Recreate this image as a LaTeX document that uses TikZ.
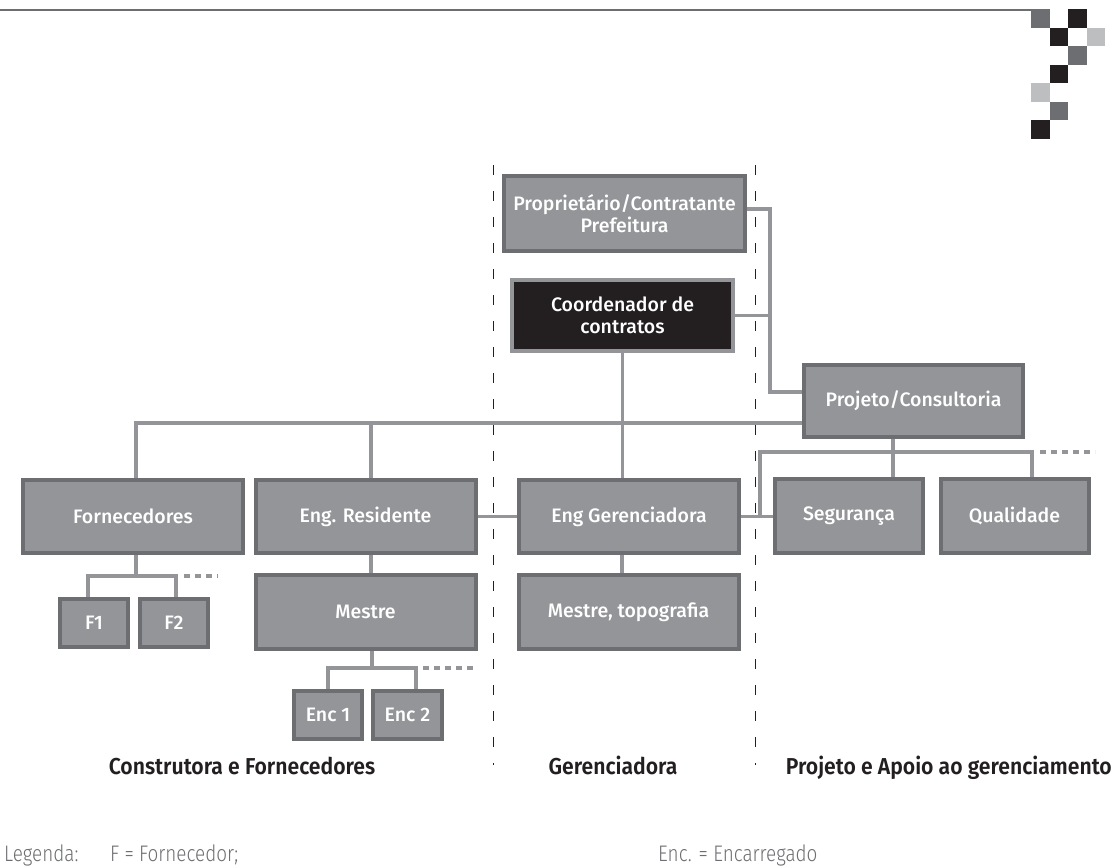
\documentclass[tikz,border=0pt]{standalone}
\usepackage{fontspec}
\setmainfont{Fira Sans}[BoldFont={Fira Sans SemiBold},FakeStretch=0.92]
\newfontfamily\boxfont{Fira Sans Medium}
\newfontfamily\legendfont{Fira Sans Light}[FakeStretch=0.84]
\definecolor{boxgray}{HTML}{939598}
\definecolor{edgegray}{HTML}{6D6E71}
\definecolor{tilegray}{HTML}{BCBEC0}
\definecolor{inkblack}{HTML}{231F20}

\begin{document}
\begin{tikzpicture}[x=1pt,y=-1pt,
  unit/.style={draw=edgegray,fill=boxgray,line width=4pt,text=white,inner sep=0pt,
    align=center,font=\boxfont\fontsize{19.5}{22}\selectfont},
  bigunit/.style={unit,minimum width=220pt,minimum height=73pt},
  midunit/.style={unit,minimum width=148pt,minimum height=74pt},
  smallunit/.style={unit,minimum width=68pt,minimum height=48pt},
  link/.style={draw=boxgray,line width=3.5pt},
  more/.style={link,dash pattern=on 6pt off 5pt},
  divider/.style={draw=inkblack,line width=0.8pt,dash pattern=on 10pt off 16pt},
  area/.style={text=inkblack,inner sep=0pt,anchor=base,font=\bfseries\fontsize{23}{26}\selectfont},
  legend/.style={text=edgegray,inner sep=0pt,anchor=base west,font=\legendfont\fontsize{22.5}{26}\selectfont}]
  \useasboundingbox (0,0) rectangle (1115,865);

  % rule and tiles at the top
  \draw[edgegray,line width=2pt] (0,10) -- (1048,10);
  \foreach \c/\r/\col in {0/0/edgegray,2/0/inkblack,1/1/inkblack,3/1/tilegray,2/2/edgegray,
                          1/3/inkblack,0/4/tilegray,1/5/edgegray,0/6/inkblack}
    \fill[\col] (1031+18.5*\c,9+18.5*\r) rectangle ++(18.5,18.5);

  % dividers between the three parties
  \draw[divider] (493,165) -- (493,765);
  \draw[divider] (755,165) -- (755,765);

  % units
  \node[bigunit,minimum width=241pt,minimum height=75pt] (prop) at (624.5,213.5) {Proprietário/Contratante\\Prefeitura};
  \node[bigunit,minimum width=221pt,minimum height=71pt,fill=inkblack,draw=boxgray] (coord) at (622.5,315.5) {Coordenador de\\contratos};
  \node[bigunit,minimum width=219pt,minimum height=72pt] (proj) at (913.5,401) {Projeto/Consultoria};
  \node[bigunit] (forn) at (133,516.5) {Fornecedores};
  \node[bigunit] (engres) at (365.5,516.5) {Eng. Residente};
  \node[bigunit] (engger) at (629,516.5) {Eng Gerenciadora};
  \node[midunit] (seg) at (849,516) {Segurança};
  \node[midunit] (qual) at (1014.5,516) {Qualidade};
  \node[smallunit] (f1) at (94,623) {F1};
  \node[smallunit] (f2) at (174,623) {F2};
  \node[bigunit,minimum height=74pt] (mestre) at (365.5,612) {Mestre};
  \node[bigunit,minimum height=74pt] (mtopo) at (628.5,612) {Mestre, topografia};
  \node[smallunit] (enc1) at (328,715) {Enc 1};
  \node[smallunit,minimum width=69pt] (enc2) at (407.5,715) {Enc 2};

  % bus lines and loose ends
  \coordinate (pbus) at (770,300);
  \coordinate (bus) at (0,423);
  \coordinate (rbus) at (760,452);
  \coordinate (fbus) at (0,576);
  \coordinate (ebus) at (0,668);
  \coordinate (qualmore) at (1095,452);
  \coordinate (fmore) at (218,576);
  \coordinate (encmore) at (473,668);

  % connectors
  \draw[link] ([yshift=4.5pt]prop.east) -| (pbus) |- ([yshift=9pt]proj.west);
  \draw[link] (coord.east) -- (coord.east -| pbus);
  \draw[link] (coord.south) -- (coord.south |- engger.north);
  \draw[link] ([xshift=3pt]forn.north) |- ([yshift=-22pt]proj.west);
  \draw[link] ([xshift=5.5pt]engres.north) -- ([xshift=5.5pt]engres.north |- bus);
  \draw[link] (engres.east) -- (engger.west);
  \draw[link] (engger.east) -- (engger.east -| seg.west);
  \draw[link] (engger.east -| rbus) -- (rbus) -| ([xshift=17.5pt]qual.north);
  \draw[more] ([xshift=25.5pt]qual.north |- rbus) -- (qualmore);
  \draw[link] ([xshift=-20.5pt]proj.south) -- ([xshift=-20.5pt]proj.south |- seg.north);

  \draw[link] ([xshift=3pt]forn.south) -- ([xshift=3pt]forn.south |- fbus);
  \draw[link] ([xshift=-6pt]f1.north) |- ([xshift=2pt]f2.north |- fbus) -- ([xshift=2pt]f2.north);
  \draw[more] ([xshift=10pt]f2.north |- fbus) -- (fmore);

  \draw[link] ([xshift=5.5pt]engres.south) -- ([xshift=5.5pt]mestre.north);
  \draw[link] ([xshift=6.5pt]mestre.south) -- ([xshift=6.5pt]mestre.south |- ebus);
  \draw[link] (enc1.north) |- ([xshift=8.5pt]enc2.north |- ebus) -- ([xshift=8.5pt]enc2.north);
  \draw[more] ([xshift=15.5pt]enc2.north |- ebus) -- (encmore);

  \draw[link] ([xshift=-7pt]engger.south) -- ([xshift=-6.5pt]mtopo.north);

  % party names
  \node[area] (construtora) at (242,774) {Construtora e Fornecedores};
  \node[area] (gerenciadora) at (613,774) {Gerenciadora};
  \node[area,anchor=base east] (apoio) at (1112,774) {Projeto e Apoio ao gerenciamento};

  % legend
  \node[legend] (leg) at (4,861) {Legenda:};
  \node[legend] (legf) at (110,861) {F = Fornecedor;};
  \node[legend] (legenc) at (658,861) {Enc. = Encarregado};
\end{tikzpicture}
\end{document}
